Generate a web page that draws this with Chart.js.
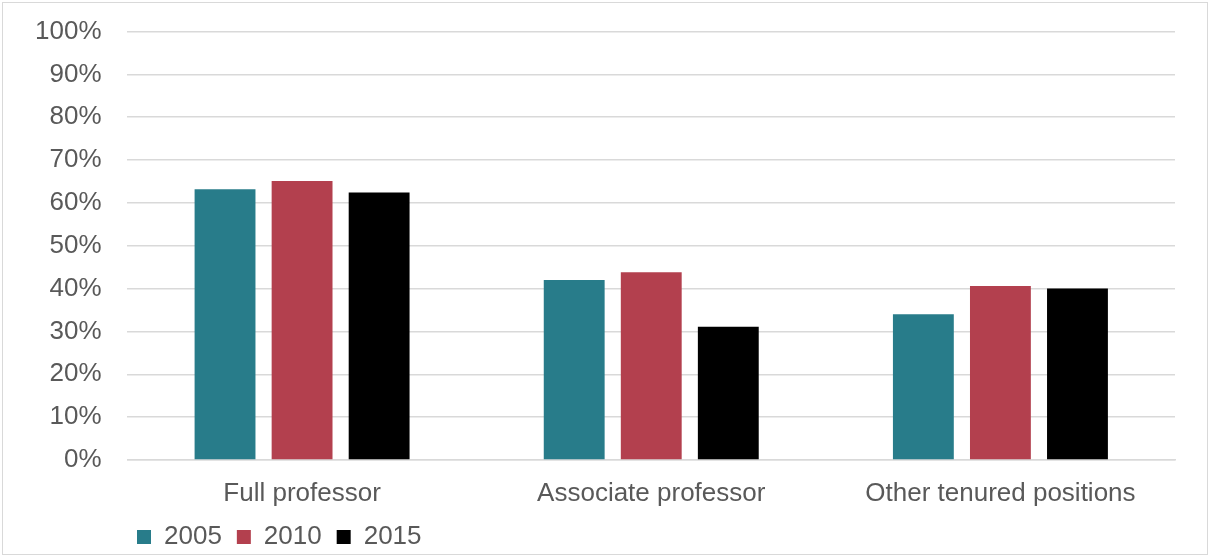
<!DOCTYPE html>
<html>
<head>
<meta charset="utf-8">
<script src="https://cdn.jsdelivr.net/npm/chart.js@4"></script>
<style>
  html, body { margin: 0; padding: 0; background: #fff; }
  #wrap { width: 1210px; height: 558px; position: relative; }
</style>
</head>
<body>
<div id="wrap"><canvas id="c" width="1210" height="558"></canvas></div>
<script>
const categories = ['Full professor', 'Associate professor', 'Other tenured positions'];
const seriesLabels = ['2005', '2010', '2015'];
const values2005 = [63.2, 42.0, 34.0];
const values2010 = [65.1, 43.8, 40.6];
const values2015 = [62.4, 31.1, 40.0];
const yTicks = [0, 10, 20, 30, 40, 50, 60, 70, 80, 90, 100];

const colors = ['#287C8A', '#B3404E', '#000000'];
const FONT = "'Liberation Sans', Arial, sans-serif";

const borderPlugin = {
  id: 'outerBorder',
  beforeDraw(chart) {
    const ctx = chart.ctx;
    ctx.save();
    ctx.fillStyle = '#ffffff';
    ctx.fillRect(0, 0, chart.width, chart.height);
    ctx.strokeStyle = '#d9d9d9';
    ctx.lineWidth = 1;
    ctx.strokeRect(2.5, 2.5, 1205, 552);
    ctx.restore();
  }
};

const legendShift = {
  id: 'legendShift',
  afterLayout(chart) {
    const lg = chart.legend;
    if (lg) {
      const dx = 113, dy = 2;
      lg.left += dx;
      lg.right += dx;
      lg.top += dy;
      lg.bottom += dy;
    }
  }
};

new Chart(document.getElementById('c'), {
  type: 'bar',
  data: {
    labels: categories,
    datasets: [
      { label: seriesLabels[0], data: values2005, backgroundColor: colors[0] },
      { label: seriesLabels[1], data: values2010, backgroundColor: colors[1] },
      { label: seriesLabels[2], data: values2015, backgroundColor: colors[2] }
    ]
  },
  options: {
    responsive: false,
    animation: false,
    devicePixelRatio: 1,
    layout: { padding: { top: 31.5, right: 35, bottom: 0, left: 9 } },
    datasets: {
      bar: { categoryPercentage: 0.662, barPercentage: 0.79 }
    },
    scales: {
      x: {
        grid: { display: false, drawTicks: false },
        border: { display: true, color: '#d9d9d9', width: 1.5 },
        ticks: { color: '#595959', font: { family: FONT, size: 26 }, padding: 18 },
        afterFit(axis) { axis.height = 47; axis.paddingLeft = 0; axis.paddingRight = 0; }
      },
      y: {
        min: 0, max: 100,
        afterBuildTicks(axis) { axis.ticks = yTicks.map(v => ({ value: v })); },
        grid: { color: '#d9d9d9', lineWidth: 1.5, drawTicks: false },
        border: { display: false },
        ticks: {
          color: '#595959', font: { family: FONT, size: 26 }, padding: 26,
          callback: v => v + '%'
        },
        afterFit(axis) { axis.paddingTop = 0; axis.paddingBottom = 0; }
      }
    },
    plugins: {
      legend: {
        position: 'bottom',
        align: 'start',
        labels: {
          color: '#595959', font: { family: FONT, size: 26 },
          boxWidth: 14, boxHeight: 14, padding: 15
        }
      },
      tooltip: { enabled: false }
    }
  },
  plugins: [borderPlugin, legendShift]
});
</script>
</body>
</html>
